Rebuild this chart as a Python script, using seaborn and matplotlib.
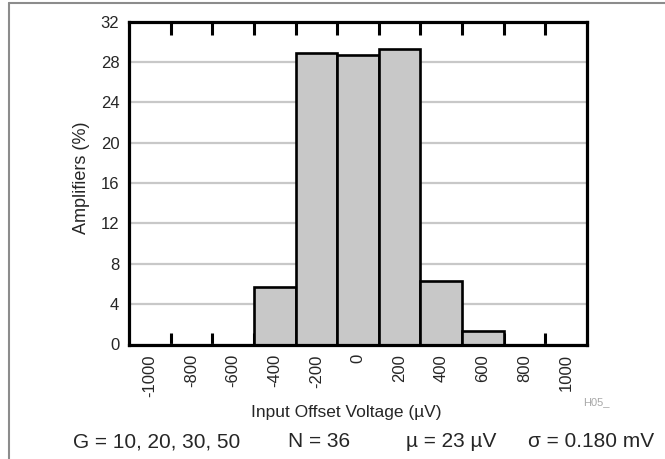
import matplotlib
matplotlib.use("Agg")
import matplotlib.pyplot as plt
from matplotlib.lines import Line2D
import seaborn as sb
import numpy as np
import pandas as pd

# histogram bins (uV) and share of amplifiers (%)
bins = ['-1000', '-800', '-600', '-400', '-200', '0', '200', '400', '600', '800', '1000']
percent = [0, 0, 0, 5.7, 28.9, 28.7, 29.3, 6.3, 1.35, 0, 0]
y_ticks = [0, 4, 8, 12, 16, 20, 24, 28, 32]
notes = ['G = 10, 20, 30, 50', 'N = 36', 'µ = 23 µV', 'σ = 0.180 mV']
notes_x = [73, 288, 406, 528]

sb.set_style('white')
plt.rcParams['font.family'] = ['Liberation Sans', 'DejaVu Sans']

W, H = 665, 459
fig = plt.figure(figsize=(W / 100, H / 100), dpi=100)
ax = fig.add_axes([129 / W, 1 - 344.5 / H, (587 - 129) / W, (344.5 - 21.5) / H])

df = pd.DataFrame({'bin': bins, 'pct': percent})
sb.barplot(data=df, x='bin', y='pct', order=bins, color='#c8c8c8', saturation=1,
           edgecolor='black', linewidth=1.9, width=1.0, ax=ax)

ax.set_xlim(-0.5, len(bins) - 0.5)
ax.set_ylim(0, 32)
ax.set_axisbelow(True)
ax.yaxis.grid(True, color='#c8c8c8', linewidth=1.6)
ax.xaxis.grid(False)

ax.set_yticks(y_ticks)
ax.set_yticklabels([str(v) for v in y_ticks], fontsize=12)
ax.tick_params(axis='y', length=0, pad=7)

ax.set_xticks(np.arange(len(bins)))
ax.set_xticklabels(bins, rotation=90, fontsize=12)
ax.tick_params(axis='x', which='major', length=0, pad=7)
ax.set_xticks(np.arange(0.5, len(bins) - 1, 1), minor=True)
ax.tick_params(axis='x', which='minor', direction='in', top=True, bottom=True,
               length=9, width=2.2, color='black')
ax.set_xlabel('')
ax.set_ylabel('')

for s in ax.spines.values():
    s.set_visible(True)
    s.set_color('black')
    s.set_linewidth(2.3)

fig.text(82 / W, 1 - 177.5 / H, 'Amplifiers (%)', rotation=90, ha='center', va='center', fontsize=13)
fig.text(251 / W, 1 - 417 / H, 'Input Offset Voltage (µV)', ha='left', va='baseline', fontsize=12.5)
fig.text(583 / W, 1 - 405 / H, 'H05_', ha='left', va='baseline', fontsize=8, color='#a8a8a8')
for t, x in zip(notes, notes_x):
    fig.text(x / W, 1 - 447 / H, t, ha='left', va='baseline', fontsize=15)

# grey page frame (only left and top edges visible)
fig.add_artist(Line2D([9 / W, 9 / W], [0, 1 - 3 / H], color='#8c8c8c', linewidth=1.5))
fig.add_artist(Line2D([9 / W, 1], [1 - 3 / H, 1 - 3 / H], color='#8c8c8c', linewidth=1.5))

plt.savefig('out.png', dpi=100)
plt.close()
